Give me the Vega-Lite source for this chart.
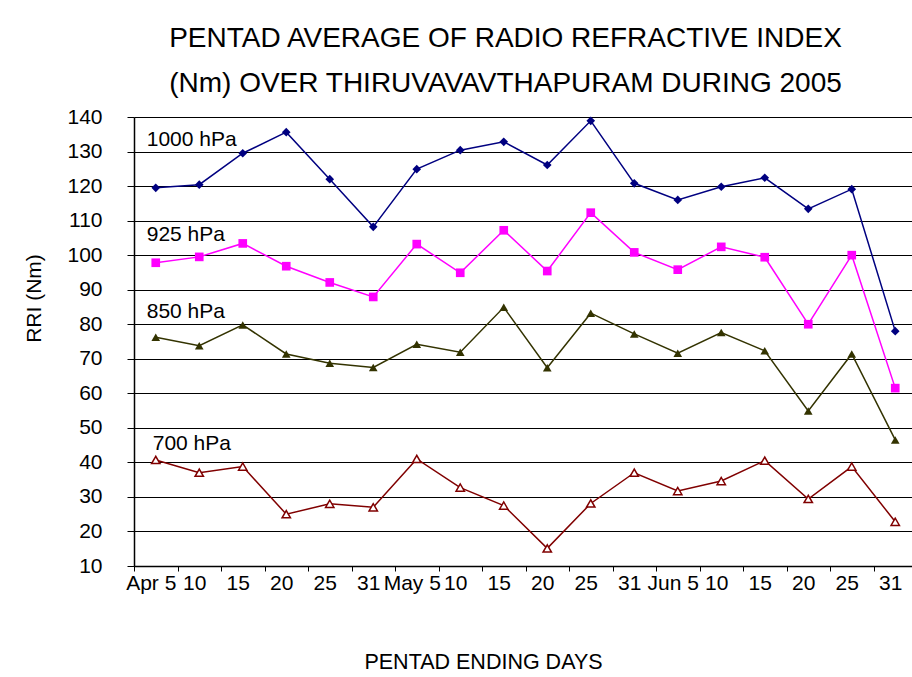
{
  "$schema": "https://vega.github.io/schema/vega-lite/v6.json",
  "autosize": {"type": "none"},
  "width": 783,
  "height": 449,
  "padding": {"left": 134, "top": 117, "right": -5, "bottom": 111},
  "background": "#ffffff",
  "config": {
    "font": "Liberation Sans",
    "view": {"stroke": null}
  },
  "title": {
    "text": ["PENTAD AVERAGE OF RADIO REFRACTIVE INDEX", "(Nm) OVER THIRUVAVAVTHAPURAM DURING 2005"],
    "fontSize": 28,
    "fontWeight": "normal",
    "color": "#000",
    "anchor": "middle",
    "dx": -20,
    "offset": -20,
    "lineHeight": 45,
    "baseline": "bottom"
  },
  "datasets": {
    "rri": [
      {"day": "Apr 5", "level": "1000 hPa", "rri": 119.5},
      {"day": "Apr 10", "level": "1000 hPa", "rri": 120.4},
      {"day": "Apr 15", "level": "1000 hPa", "rri": 129.5},
      {"day": "Apr 20", "level": "1000 hPa", "rri": 135.6},
      {"day": "Apr 25", "level": "1000 hPa", "rri": 122.0},
      {"day": "Apr 31", "level": "1000 hPa", "rri": 108.2},
      {"day": "May 5", "level": "1000 hPa", "rri": 124.9},
      {"day": "May 10", "level": "1000 hPa", "rri": 130.4},
      {"day": "May 15", "level": "1000 hPa", "rri": 132.8},
      {"day": "May 20", "level": "1000 hPa", "rri": 126.1},
      {"day": "May 25", "level": "1000 hPa", "rri": 138.9},
      {"day": "May 31", "level": "1000 hPa", "rri": 120.8},
      {"day": "Jun 5", "level": "1000 hPa", "rri": 116.0},
      {"day": "Jun 10", "level": "1000 hPa", "rri": 119.8},
      {"day": "Jun 15", "level": "1000 hPa", "rri": 122.4},
      {"day": "Jun 20", "level": "1000 hPa", "rri": 113.4},
      {"day": "Jun 25", "level": "1000 hPa", "rri": 119.1},
      {"day": "Jun 31", "level": "1000 hPa", "rri": 78.0},
      {"day": "Apr 5", "level": "925 hPa", "rri": 97.8},
      {"day": "Apr 10", "level": "925 hPa", "rri": 99.5},
      {"day": "Apr 15", "level": "925 hPa", "rri": 103.4},
      {"day": "Apr 20", "level": "925 hPa", "rri": 96.8},
      {"day": "Apr 25", "level": "925 hPa", "rri": 92.1},
      {"day": "Apr 31", "level": "925 hPa", "rri": 87.9},
      {"day": "May 5", "level": "925 hPa", "rri": 103.2},
      {"day": "May 10", "level": "925 hPa", "rri": 94.9},
      {"day": "May 15", "level": "925 hPa", "rri": 107.2},
      {"day": "May 20", "level": "925 hPa", "rri": 95.4},
      {"day": "May 25", "level": "925 hPa", "rri": 112.3},
      {"day": "May 31", "level": "925 hPa", "rri": 100.8},
      {"day": "Jun 5", "level": "925 hPa", "rri": 95.8},
      {"day": "Jun 10", "level": "925 hPa", "rri": 102.4},
      {"day": "Jun 15", "level": "925 hPa", "rri": 99.4},
      {"day": "Jun 20", "level": "925 hPa", "rri": 80.0},
      {"day": "Jun 25", "level": "925 hPa", "rri": 100.0},
      {"day": "Jun 31", "level": "925 hPa", "rri": 61.5},
      {"day": "Apr 5", "level": "850 hPa", "rri": 76.2},
      {"day": "Apr 10", "level": "850 hPa", "rri": 73.8},
      {"day": "Apr 15", "level": "850 hPa", "rri": 79.8},
      {"day": "Apr 20", "level": "850 hPa", "rri": 71.4},
      {"day": "Apr 25", "level": "850 hPa", "rri": 68.7},
      {"day": "Apr 31", "level": "850 hPa", "rri": 67.5},
      {"day": "May 5", "level": "850 hPa", "rri": 74.2},
      {"day": "May 10", "level": "850 hPa", "rri": 71.9},
      {"day": "May 15", "level": "850 hPa", "rri": 84.9},
      {"day": "May 20", "level": "850 hPa", "rri": 67.4},
      {"day": "May 25", "level": "850 hPa", "rri": 83.2},
      {"day": "May 31", "level": "850 hPa", "rri": 77.2},
      {"day": "Jun 5", "level": "850 hPa", "rri": 71.6},
      {"day": "Jun 10", "level": "850 hPa", "rri": 77.6},
      {"day": "Jun 15", "level": "850 hPa", "rri": 72.3},
      {"day": "Jun 20", "level": "850 hPa", "rri": 54.9},
      {"day": "Jun 25", "level": "850 hPa", "rri": 71.4},
      {"day": "Jun 31", "level": "850 hPa", "rri": 46.5},
      {"day": "Apr 5", "level": "700 hPa", "rri": 40.7},
      {"day": "Apr 10", "level": "700 hPa", "rri": 37.0},
      {"day": "Apr 15", "level": "700 hPa", "rri": 38.8},
      {"day": "Apr 20", "level": "700 hPa", "rri": 25.0},
      {"day": "Apr 25", "level": "700 hPa", "rri": 28.0},
      {"day": "Apr 31", "level": "700 hPa", "rri": 27.0},
      {"day": "May 5", "level": "700 hPa", "rri": 41.0},
      {"day": "May 10", "level": "700 hPa", "rri": 32.7},
      {"day": "May 15", "level": "700 hPa", "rri": 27.5},
      {"day": "May 20", "level": "700 hPa", "rri": 15.1},
      {"day": "May 25", "level": "700 hPa", "rri": 28.1},
      {"day": "May 31", "level": "700 hPa", "rri": 37.0},
      {"day": "Jun 5", "level": "700 hPa", "rri": 31.7},
      {"day": "Jun 10", "level": "700 hPa", "rri": 34.6},
      {"day": "Jun 15", "level": "700 hPa", "rri": 40.5},
      {"day": "Jun 20", "level": "700 hPa", "rri": 29.4},
      {"day": "Jun 25", "level": "700 hPa", "rri": 38.8},
      {"day": "Jun 31", "level": "700 hPa", "rri": 22.8}
    ],
    "labels": [
      {"day": "Apr 5", "level": "1000 hPa", "rri": 133.2},
      {"day": "Apr 5", "level": "925 hPa", "rri": 105.7},
      {"day": "Apr 5", "level": "850 hPa", "rri": 83.4},
      {"day": "Apr 5", "level": "700 hPa", "rri": 45.2}
    ]
  },
  "layer": [
    {
      "data": {"name": "rri"},
      "mark": {"type": "line", "strokeWidth": 1.5},
      "encoding": {
        "x": {
          "field": "day",
          "type": "ordinal",
          "sort": ["Apr 5","Apr 10","Apr 15","Apr 20","Apr 25","Apr 31","May 5","May 10","May 15","May 20","May 25","May 31","Jun 5","Jun 10","Jun 15","Jun 20","Jun 25","Jun 31"],
          "scale": {"type": "band", "paddingInner": 0, "paddingOuter": 0},
          "axis": {
            "title": "PENTAD ENDING DAYS",
            "titleX": 349,
            "titleY": 96,
            "titleBaseline": "middle",
            "titleFontSize": 21.5,
            "titleFontWeight": "normal",
            "titleColor": "#000",
            "labelFontSize": 21,
            "labelColor": "#000",
            "labelAngle": 0,
            "labelOverlap": false,
            "labelOffset": -5,
            "labelPadding": 1,
            "tickSize": 5,
            "tickColor": "#000",
            "domainColor": "#000",
            "domainWidth": 1.5,
            "tickBand": "extent",
            "grid": false,
            "labelExpr": "isString(datum.value) ? (indexof(datum.value, ' 5') > 0 ? datum.value : split(datum.value, ' ')[1]) : ''"
          }
        },
        "y": {
          "field": "rri",
          "type": "quantitative",
          "scale": {"domain": [10, 140], "nice": false, "zero": false},
          "axis": {
            "title": "RRI (Nm)",
            "values": [10, 20, 30, 40, 50, 60, 70, 80, 90, 100, 110, 120, 130, 140],
            "tickCount": 30,
            "grid": true,
            "gridColor": "#000",
            "gridOpacity": 1,
            "tickSize": 7,
            "tickColor": "#000",
            "domainColor": "#000",
            "domainWidth": 1.5,
            "labelFontSize": 21,
            "labelColor": "#000",
            "labelPadding": 25,
            "labelOverlap": false,
            "titleFontSize": 21,
            "titleFontWeight": "normal",
            "titleColor": "#000",
            "titleAngle": -90,
            "titleX": -100,
            "titleY": 181,
            "titleBaseline": "middle",
            "titleAlign": "center"
          }
        },
        "color": {
          "field": "level",
          "type": "nominal",
          "scale": {"domain": ["1000 hPa", "925 hPa", "850 hPa", "700 hPa"], "range": ["#000080", "#FF00FF", "#333300", "#800000"]},
          "legend": null
        }
      }
    },
    {
      "data": {"name": "rri"},
      "transform": [{"filter": "datum.level != '700 hPa'"}],
      "mark": {"type": "point", "filled": true, "opacity": 1, "size": 75},
      "encoding": {
        "x": {"field": "day", "type": "ordinal", "sort": ["Apr 5","Apr 10","Apr 15","Apr 20","Apr 25","Apr 31","May 5","May 10","May 15","May 20","May 25","May 31","Jun 5","Jun 10","Jun 15","Jun 20","Jun 25","Jun 31"]},
        "y": {"field": "rri", "type": "quantitative"},
        "color": {"field": "level", "type": "nominal", "legend": null},
        "shape": {
          "field": "level",
          "type": "nominal",
          "scale": {"domain": ["1000 hPa", "925 hPa", "850 hPa", "700 hPa"], "range": ["diamond", "square", "triangle-up", "triangle-up"]},
          "legend": null
        }
      }
    },
    {
      "data": {"name": "rri"},
      "transform": [{"filter": "datum.level == '700 hPa'"}],
      "mark": {"type": "point", "shape": "triangle-up", "filled": false, "fill": "#ffffff", "stroke": "#800000", "strokeWidth": 1.5, "opacity": 1, "size": 70},
      "encoding": {
        "x": {"field": "day", "type": "ordinal", "sort": ["Apr 5","Apr 10","Apr 15","Apr 20","Apr 25","Apr 31","May 5","May 10","May 15","May 20","May 25","May 31","Jun 5","Jun 10","Jun 15","Jun 20","Jun 25","Jun 31"]},
        "y": {"field": "rri", "type": "quantitative"}
      }
    },
    {
      "data": {"name": "labels"},
      "transform": [{"filter": "datum.level != '700 hPa'"}],
      "mark": {"type": "text", "align": "left", "baseline": "middle", "dx": -9, "fontSize": 21, "color": "#000"},
      "encoding": {
        "x": {"field": "day", "type": "ordinal", "sort": ["Apr 5","Apr 10","Apr 15","Apr 20","Apr 25","Apr 31","May 5","May 10","May 15","May 20","May 25","May 31","Jun 5","Jun 10","Jun 15","Jun 20","Jun 25","Jun 31"]},
        "y": {"field": "rri", "type": "quantitative"},
        "text": {"field": "level"}
      }
    },
    {
      "data": {"name": "labels"},
      "transform": [{"filter": "datum.level == '700 hPa'"}],
      "mark": {"type": "text", "align": "left", "baseline": "middle", "dx": -3, "fontSize": 21, "color": "#000"},
      "encoding": {
        "x": {"field": "day", "type": "ordinal", "sort": ["Apr 5","Apr 10","Apr 15","Apr 20","Apr 25","Apr 31","May 5","May 10","May 15","May 20","May 25","May 31","Jun 5","Jun 10","Jun 15","Jun 20","Jun 25","Jun 31"]},
        "y": {"field": "rri", "type": "quantitative"},
        "text": {"field": "level"}
      }
    }
  ]
}
